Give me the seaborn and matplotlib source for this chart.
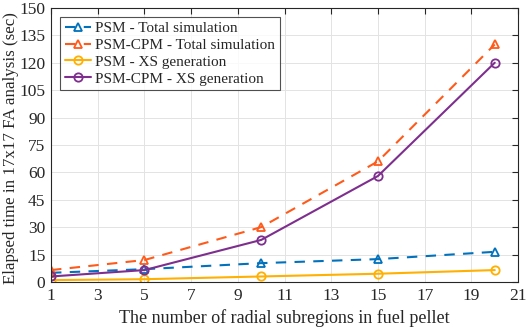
import numpy as np
import pandas as pd
import matplotlib
matplotlib.use("Agg")
import matplotlib.pyplot as plt
import seaborn as sns

# Data
regions = [1, 5, 10, 15, 20]
psm_total = [5.0, 7.0, 10.3, 12.5, 16.5]
cpm_total = [6.5, 12.0, 30.0, 66.0, 130.0]
psm_xs = [1.0, 1.5, 3.0, 4.5, 6.5]
cpm_xs = [3.0, 6.5, 23.0, 58.0, 120.0]

labels = ["PSM - Total simulation", "PSM-CPM - Total simulation",
          "PSM - XS generation", "PSM-CPM - XS generation"]
colors = ["#0072BD", "#FF5A1A", "#FFB000", "#7E2F8E"]
markers = ["^", "^", "o", "o"]
styles = [(0, (5, 4)), (0, (5, 4)), "-", "-"]

df = pd.DataFrame({"x": regions * 4,
                   "y": psm_total + cpm_total + psm_xs + cpm_xs,
                   "series": np.repeat(labels, len(regions))})

sns.set_style("white")
plt.rcParams["font.family"] = ["Liberation Serif", "DejaVu Serif"]

fig = plt.figure(figsize=(5.26, 3.29), dpi=100)
ax = fig.add_axes([0.097, 0.143, 0.888, 0.833])

for lab, c, m, ls in zip(labels, colors, markers, styles):
    sub = df[df["series"] == lab]
    sns.lineplot(data=sub, x="x", y="y", ax=ax, color=c, marker=m, linestyle=ls,
                 linewidth=1.5, markersize=6, markerfacecolor="none",
                 markeredgecolor=c, markeredgewidth=1.3, label=lab)

ax.set_xlim(1, 21)
ax.set_ylim(0, 150)
ax.set_xticks(range(1, 22, 2))
ax.set_yticks(range(0, 151, 15))
ax.grid(True, color="#e3e3e3", linewidth=0.7)
ax.tick_params(direction="in", length=4, top=True, right=True, labelsize=12.5,
               colors="#262626", pad=4)
for s in ax.spines.values():
    s.set_color("#262626")
    s.set_linewidth(0.8)
ax.set_xlabel("The number of radial subregions in fuel pellet", fontsize=13)
ax.set_ylabel("Elapsed time in 17x17 FA analysis (sec)", fontsize=12.2)
ax.yaxis.set_label_coords(-0.068, 0.49)

leg = ax.legend(loc="upper left", fontsize=11, frameon=True, fancybox=False,
                edgecolor="#262626", handlelength=1.7, handletextpad=0.3,
                borderpad=0.3, labelspacing=0.2, borderaxespad=0.6)
leg.get_frame().set_linewidth(0.8)

fig.savefig("out.png", dpi=100)
